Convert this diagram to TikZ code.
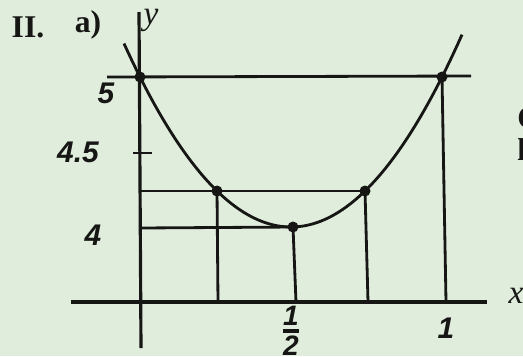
\documentclass[tikz,border=0pt]{standalone}
\usepackage{fontspec}
\setmainfont{Liberation Serif}
\setsansfont{Liberation Sans}
\definecolor{paper}{RGB}{224,237,220}
\definecolor{ink}{RGB}{22,22,20}
\begin{document}
\begin{tikzpicture}[
	x=0.02cm, y=-0.02cm,
	line width=1.6pt,
	draw=ink,
	dot/.style={circle, fill=ink, inner sep=0pt, minimum size=0.22cm},
	axis/.style={draw=ink, line width=1.8pt},
	guide/.style={draw=ink, line width=1.6pt},
	curve/.style={draw=ink, line width=1.6pt},
	head/.style={font=\fontsize{18}{20}\selectfont, text=ink},
	val/.style={font=\fontsize{17}{19}\selectfont\sffamily\bfseries\itshape, text=ink},
	axlabel/.style={font=\fontsize{19}{21}\selectfont\itshape, text=ink}
]

% papel
\fill[paper] (0,0) rectangle (523,356);
\useasboundingbox (0,0) rectangle (523,356);

% titulo
\node[head, font=\fontsize{18}{20}\selectfont\bfseries] (num) at (28,27) {II.};
\node[head, font=\fontsize{18}{20}\selectfont\bfseries] (parte) at (88,25) {a)};

% ejes
\coordinate (ytop) at (139,12);
\coordinate (ybot) at (141,348);
\coordinate (xleft) at (71,302);
\coordinate (xright) at (487,302);
\draw[axis] (ytop) -- (ybot);
\draw[axis] (xleft) -- (xright);
\node[axlabel] (ylab) at (151,20) {y};
\node[axlabel] (xlab) at (516,296) {x};

% parabola
\draw[curve] plot[domain=124:462, samples=80] (\x, {227-150*((\x-291)/151)^2});

% puntos
\node[dot] (p0) at (140,77) {};
\node[dot] (p1) at (442,77) {};
\node[dot] (q0) at (217,191) {};
\node[dot] (q1) at (365,191) {};
\node[dot] (m) at (293,227) {};

% lineas horizontales
\coordinate (h0) at (107,77);
\coordinate (h1) at (471,76);
\coordinate (a1) at (140,191);
\coordinate (a2) at (140,228);
\draw[guide] (h0) -- (h1);
\draw[guide] (a1) -- (q1.center);
\draw[guide] (a2) -- (m.center);
\draw[guide] (133,153) -- (152,153);

% lineas verticales
\coordinate (f0) at (218,302);
\coordinate (f1) at (296,302);
\coordinate (f2) at (368,302);
\coordinate (f3) at (446,302);
\draw[guide] (q0.center) -- (f0);
\draw[guide] (m.center) -- (f1);
\draw[guide] (q1.center) -- (f2);
\draw[guide] (p1.center) -- (f3);

% valores
\node[val] (v5) at (106,93) {5};
\node[val] (v45) at (78,152) {4.5};
\node[val] (v4) at (93,235) {4};
\node[val, font=\fontsize{16}{18}\selectfont\sffamily\bfseries\itshape, inner sep=0pt] (vmedio) at (291,331) {${\hbox{1}\above 2pt\hbox{2}}$};
\node[val] (vuno) at (446,328) {1};

% texto cortado a la derecha
\node[head, font=\fontsize{18}{20}\selectfont\bfseries, anchor=west] (c1) at (510,118) {C};
\node[head, font=\fontsize{18}{20}\selectfont\bfseries, anchor=west] (c2) at (510,150) {la};

\end{tikzpicture}
\end{document}
